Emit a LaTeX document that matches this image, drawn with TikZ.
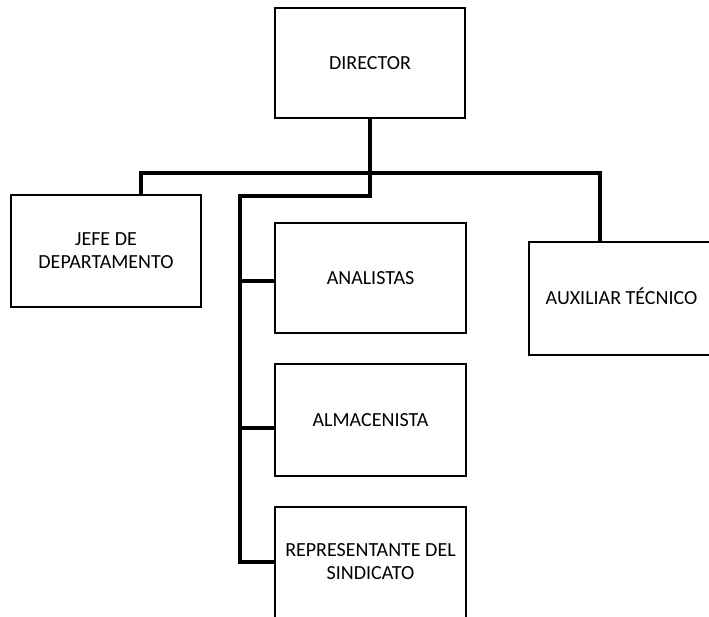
\documentclass[tikz,border=0pt]{standalone}
\usepackage{fontspec}
\setmainfont{Carlito}
\usetikzlibrary{backgrounds}
\begin{document}
\begin{tikzpicture}[x=1pt,y=-1pt,
  box/.style={draw=black,line width=2pt,fill=white,rectangle,inner sep=0pt,align=center,
    font=\fontsize{20}{23}\selectfont},
  conn/.style={draw=black,line width=4pt,line join=miter}]
\useasboundingbox (0,0) rectangle (709,616);
\clip (0,0) rectangle (709,616);
% nodes
\node[box,minimum width=190pt,minimum height=110pt] (dir) at (370,63) {DIRECTOR};
\node[box,minimum width=190pt,minimum height=112pt] (jefe) at (106,251) {JEFE DE\\DEPARTAMENTO};
\node[box,minimum width=191pt,minimum height=110pt] (ana) at (370.5,278) {ANALISTAS};
\node[box,minimum width=191pt,minimum height=112pt] (alm) at (370.5,420) {ALMACENISTA};
\node[box,minimum width=191pt,minimum height=113pt] (rep) at (370.5,563.5) {\raisebox{4pt}{\begin{tabular}{@{}c@{}}REPRESENTANTE DEL\\SINDICATO\end{tabular}}};
\node[box,minimum width=185pt,minimum height=113pt] (aux) at (621.5,298.5) {\raisebox{5pt}{AUXILIAR TÉCNICO}};
% coordinates
\coordinate (busL) at (141,173);
\coordinate (busR) at (600,173);
\coordinate (d2) at (370,196);
\coordinate (v2) at (240,196);
\coordinate (vA) at (240,281);
\coordinate (vB) at (240,428);
\coordinate (vC) at (240,562);
% connectors
\begin{scope}[on background layer]
\path[conn] (dir.south) -- (d2) -- (v2) -- (vC) -- (vC -| rep.west);
\path[conn] (busL |- jefe.north) -- (busL) -- (busR) -- (busR |- aux.north);
\path[conn] (vA) -- (vA -| ana.west);
\path[conn] (vB) -- (vB -| alm.west);
\end{scope}
\end{tikzpicture}
\end{document}
